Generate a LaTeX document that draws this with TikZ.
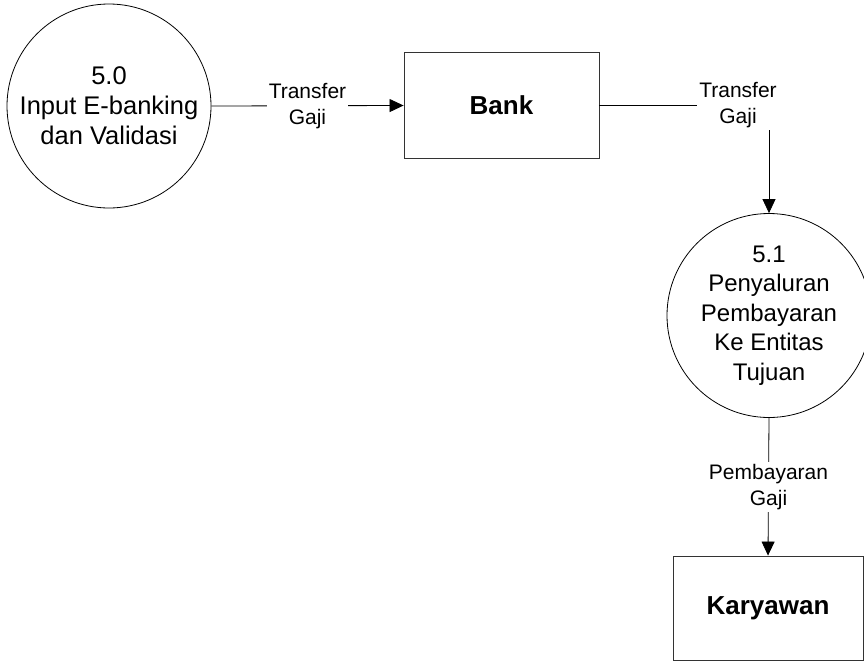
\documentclass[tikz,border=0pt]{standalone}
\usepackage{fontspec}
\setmainfont{Liberation Sans}
\usetikzlibrary{arrows.meta}
\begin{document}
\begin{tikzpicture}[x=1pt,y=-1pt,
  proc/.style={circle,draw=black,line width=0.8pt,minimum size=204pt,inner sep=0pt,align=center,font=\fontsize{24}{29.5}\selectfont},
  bigproc/.style={proc,font=\fontsize{25.5}{30}\selectfont},
  entity/.style={rectangle,draw=black!80,line width=0.9pt,font=\fontsize{26}{30}\selectfont\bfseries},
  flow/.style={draw=black,line width=0.8pt,-{Triangle[length=14pt,width=13pt]}},
  lbl/.style={fill=white,inner sep=2pt,align=center,font=\fontsize{21}{26}\selectfont}]
\useasboundingbox (0,0) rectangle (864,662);
\node[bigproc] (p50) at (109,106) {5.0\\Input E-banking\\dan Validasi};
\node[entity,minimum width=195pt,minimum height=106pt] (bank) at (501.5,105.5) {Bank};
\node[proc] (p51) at (769,315.5) {5.1\\Penyaluran\\Pembayaran\\Ke Entitas\\Tujuan};
\node[entity,minimum width=190pt,minimum height=104pt] (kar) at (768,608) {Karyawan};
\draw[flow] (p50.east) -- node[lbl] (l1) {Transfer\\Gaji} (bank.west);
\coordinate (corner) at (p51.north |- bank.east);
\draw[flow] (bank.east) -- (corner) -- (p51.north);
\node[lbl] (l2) at (738,105) {Transfer\\Gaji};
\draw[flow] (p51.south) -- node[lbl] (l3) {Pembayaran\\Gaji} (kar.north);
\end{tikzpicture}
\end{document}
